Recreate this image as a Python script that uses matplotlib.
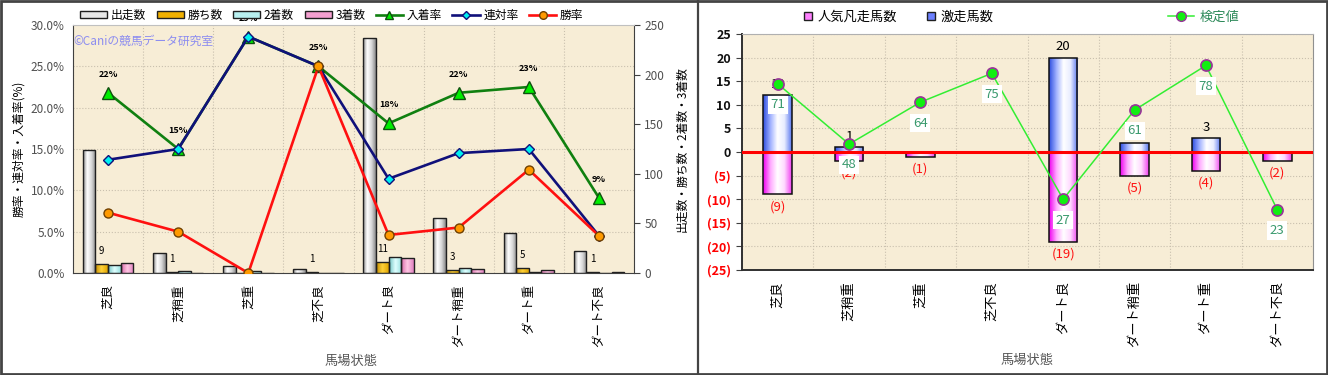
import numpy as np
import matplotlib
matplotlib.use('Agg')
import matplotlib.pyplot as plt
from matplotlib.colors import LinearSegmentedColormap
from matplotlib.patches import Patch, Rectangle
from matplotlib.lines import Line2D

plt.rcParams['font.family'] = ['Noto Sans CJK JP', 'DejaVu Sans']

# data
cats = ['芝良', '芝稍重', '芝重', '芝不良', 'ダート良', 'ダート稍重', 'ダート重', 'ダート不良']
starts = [124, 20, 7, 4, 237, 55, 40, 22]
wins = [9, 1, 0, 1, 11, 3, 5, 1]
seconds = [8, 2, 2, 0, 16, 5, 1, 0]
thirds = [10, 0, 0, 0, 15, 4, 3, 1]
place_rate = [21.8, 15.0, 28.6, 25.0, 18.1, 21.8, 22.5, 9.1]
rentai_rate = [13.7, 15.0, 28.6, 25.0, 11.4, 14.5, 15.0, 4.5]
win_rate = [7.3, 5.0, 0.0, 25.0, 4.6, 5.5, 12.5, 4.5]
place_labels = ['22%', '15%', '29%', '25%', '18%', '22%', '23%', '9%']

gekiso = [12, 1, 0, 0, 20, 2, 3, 0]
bonso = [-9, -2, -1, 0, -19, -5, -4, -2]
kentei = [71, 48, 64, 75, 27, 61, 78, 23]

BG = '#F7EDD6'
GRID = '#C9C0AE'


def shade(ax, bars, colors, z=2):
    # gradient fill clipped to each bar
    cmap = LinearSegmentedColormap.from_list('g', colors)
    grad = np.linspace(0, 1, 64).reshape(1, -1)
    for b in bars:
        h = b.get_height()
        if h == 0:
            continue
        x, y, w = b.get_x(), b.get_y(), b.get_width()
        im = ax.imshow(grad, extent=[x, x + w, y, y + h], aspect='auto',
                       cmap=cmap, zorder=z, origin='lower', interpolation='bilinear')
        im.set_clip_path(b)


fig = plt.figure(figsize=(13.28, 3.75), dpi=100)
x = np.arange(len(cats))

# ---------------- left chart ----------------
ax = fig.add_axes([73 / 1328, 1 - 273 / 375, 561 / 1328, 248 / 375])
ax.set_facecolor(BG)
ax2 = ax.twinx()

w = 0.18
series = [(starts, ['#8c8c8c', '#ffffff', '#d8d8d8', '#8a8a8a']),
          (wins, ['#c08a00', '#ffd23a', '#e0a400']),
          (seconds, ['#70c4c4', '#e0ffff', '#98e0e0']),
          (thirds, ['#d868a8', '#ffc8e4', '#e080c0'])]
for k, (vals, cols) in enumerate(series):
    bars = ax.bar(x + (k - 1.5) * w, vals, w, facecolor='none', edgecolor='#202020',
                  linewidth=1.0, zorder=3)
    shade(ax, bars, cols, z=2.5)
for i, v in enumerate(wins):
    if v:
        ax.annotate(str(v), (x[i] - 0.5 * w, v), xytext=(0, 6), textcoords='offset points',
                    ha='center', va='bottom', fontsize=7)
ax.set_xlim(-0.5, len(cats) - 0.5)
ax.set_ylim(0, 250)
ax.yaxis.tick_right()
ax.yaxis.set_label_position('right')
ax.set_yticks(np.arange(0, 251, 50))
ax.tick_params(axis='y', labelsize=8.5, labelcolor='#505050', length=4, color='#404040')
ax.set_yticks(np.arange(0, 251, 250 / 6), minor=True)
ax.tick_params(axis='y', which='minor', length=0)
ax.set_xticks(np.arange(-0.5, len(cats), 1))
ax.set_xticklabels([])
ax.set_xticks(x, minor=True)
ax.set_xticklabels(cats, minor=True, rotation=90, fontsize=9)
ax.tick_params(axis='x', which='both', length=0, pad=8)
ax.grid(True, which='major', axis='x', linestyle=':', color=GRID, linewidth=0.8)
ax.grid(True, which='minor', axis='y', linestyle=':', color=GRID, linewidth=0.8)
ax.set_axisbelow(True)
ax.set_ylabel('出走数・勝ち数・2着数・3着数', fontsize=8.5, rotation=90, labelpad=8)
ax.set_xlabel('馬場状態', fontsize=9.5, color='#555555')
ax.xaxis.set_label_coords(0.495, -0.33)
ax.spines['top'].set_color('#c0c0c0')
ax.spines['left'].set_color('#404040')
ax.spines['right'].set_color('#404040')
ax.spines['bottom'].set_color('#404040')

ax2.yaxis.tick_left()
ax2.yaxis.set_label_position('left')
ax2.set_ylim(0, 30)
ax2.set_yticks(np.arange(0, 31, 5))
ax2.set_yticklabels(['%.1f%%' % v for v in np.arange(0, 31, 5)])
ax2.tick_params(axis='y', labelsize=8.5, labelcolor='#505050', length=0, pad=6)
ax2.plot(x, place_rate, color='#108010', lw=1.9, marker='^', ms=8, mfc='#00ee00',
         mec='#105010', zorder=4, label='入着率')
ax2.plot(x, rentai_rate, color='#10107a', lw=1.9, marker='D', ms=5.5, mfc='#00f0f0',
         mec='#10107a', zorder=5, label='連対率')
ax2.plot(x, win_rate, color='#ff1010', lw=1.9, marker='o', ms=6.5, mfc='#ff9a00',
         mec='#704000', zorder=6, label='勝率')
for i, lbl in enumerate(place_labels):
    ax2.annotate(lbl, (x[i], place_rate[i]), xytext=(0, 10), textcoords='offset points',
                 ha='center', va='bottom', fontsize=6.5, fontweight='bold', zorder=3)
ax2.set_ylabel('勝率・連対率・入着率(%)', fontsize=8.5, labelpad=4)
ax2.text(0.0, 0.935, '©Caniの競馬データ研究室', transform=ax2.transAxes, fontsize=8.5,
         color='#8c8cf0', ha='left', va='center')
for s in ax2.spines.values():
    s.set_visible(False)

handles = [Patch(facecolor='#e8e8e8', edgecolor='#202020', label='出走数'),
           Patch(facecolor='#f0b000', edgecolor='#202020', label='勝ち数'),
           Patch(facecolor='#b8f0f0', edgecolor='#202020', label='2着数'),
           Patch(facecolor='#f4a0d0', edgecolor='#202020', label='3着数'),
           Line2D([], [], color='#108010', lw=1.9, marker='^', ms=6, mfc='#00ee00', mec='#105010', label='入着率'),
           Line2D([], [], color='#10107a', lw=1.9, marker='D', ms=4.5, mfc='#00f0f0', mec='#10107a', label='連対率'),
           Line2D([], [], color='#ff1010', lw=1.9, marker='o', ms=5.5, mfc='#ff9a00', mec='#704000', label='勝率')]
fig.legend(handles=handles, loc='center left', bbox_to_anchor=(80 / 1328, 1 - 15 / 375),
           ncol=7, frameon=False, fontsize=8.5, handlelength=2.3, handleheight=0.55,
           columnspacing=0.9, handletextpad=0.3, borderaxespad=0, borderpad=0)

# ---------------- right chart ----------------
axr = fig.add_axes([742 / 1328, 1 - 270 / 375, 571 / 1328, 236 / 375])
axr.set_facecolor(BG)
wr = 0.4
b1 = axr.bar(x, gekiso, wr, facecolor='none', edgecolor='#101010', linewidth=1.1, zorder=3)
shade(axr, b1, ['#2f4fe0', '#9fb0ff', '#ffffff', '#e8ecff', '#5a78f0'], z=2.5)
b2 = axr.bar(x, bonso, wr, facecolor='none', edgecolor='#101010', linewidth=1.1, zorder=3)
shade(axr, b2, ['#f000f0', '#ffa8ff', '#ffffff', '#ffd8ff', '#f040f0'], z=2.5)
axr.axhline(0, color='#ff0000', lw=2.2, zorder=4)
for i in range(len(cats)):
    if gekiso[i]:
        axr.annotate(str(gekiso[i]), (x[i], gekiso[i]), xytext=(0, 3), textcoords='offset points',
                     ha='center', va='bottom', fontsize=9.5, zorder=5)
    if bonso[i]:
        axr.annotate('(%d)' % -bonso[i], (x[i], bonso[i]), xytext=(0, -4), textcoords='offset points',
                     ha='center', va='top', fontsize=9.5, color='#ff1010', zorder=5)
axr.set_xlim(-0.5, len(cats) - 0.5)
axr.set_ylim(-25, 25)
yt = np.arange(-25, 26, 5)
axr.set_yticks(yt)
axr.set_yticklabels([str(v) if v >= 0 else '(%d)' % -v for v in yt], fontsize=9, fontweight='bold')
for lbl, v in zip(axr.get_yticklabels(), yt):
    lbl.set_color('#ff0000' if v < 0 else '#101010')
axr.tick_params(axis='y', length=4, color='#404040', pad=4)
axr.set_xticks(np.arange(-0.5, len(cats), 1))
axr.set_xticklabels([])
axr.set_xticks(x, minor=True)
axr.set_xticklabels(cats, minor=True, rotation=90, fontsize=9.5)
axr.tick_params(axis='x', which='both', length=0, pad=8)
axr.grid(True, axis='both', which='major', linestyle=':', color=GRID, linewidth=0.8)
axr.set_axisbelow(True)
axr.set_xlabel('馬場状態', fontsize=9.5, color='#555555')
axr.xaxis.set_label_coords(0.5, -0.355)
axr.spines['left'].set_color('#303030')
axr.spines['bottom'].set_color('#303030')
axr.spines['left'].set_linewidth(1.4)
axr.spines['bottom'].set_linewidth(1.4)
axr.spines['top'].set_color('#b0b0b0')
axr.spines['right'].set_color('#909090')

axr2 = axr.twinx()
axr2.set_ylim(0, 90)
axr2.axis('off')
axr2.plot(x, kentei, color='#33ee33', lw=1.1, marker='o', ms=8, mfc='#11ee11',
          mec='#993399', mew=1.2, zorder=6)
for i, v in enumerate(kentei):
    axr2.annotate(str(v), (x[i], v), xytext=(0, -15), textcoords='offset points',
                  ha='center', va='center', fontsize=9.5, color='#3a9a6e', zorder=7,
                  bbox=dict(boxstyle='square,pad=0.2', fc='white', ec='none'))

sq = dict(marker='s', ls='none', ms=6, mec='#202020', mew=1.0)
leg1 = fig.legend(handles=[Line2D([], [], mfc='#ff80ff', label='人気凡走馬数', **sq)],
                  loc='center left', bbox_to_anchor=(803 / 1328, 1 - 17 / 375), frameon=False,
                  fontsize=9.5, handlelength=0.8, handletextpad=0.3, borderaxespad=0, borderpad=0)
leg2 = fig.legend(handles=[Line2D([], [], mfc='#6c80ff', label='激走馬数', **sq)],
                  loc='center left', bbox_to_anchor=(926 / 1328, 1 - 17 / 375), frameon=False,
                  fontsize=9.5, handlelength=0.8, handletextpad=0.3, borderaxespad=0, borderpad=0)
leg3 = fig.legend(handles=[Line2D([], [], color='#33ee33', lw=1.1, marker='o', ms=7, mfc='#11ee11',
                                  mec='#993399', label='検定値')],
                  loc='center left', bbox_to_anchor=(1168 / 1328, 1 - 17 / 375), frameon=False,
                  fontsize=9.5, handlelength=2.0, handletextpad=0.4, borderaxespad=0, borderpad=0)
for t in leg3.get_texts():
    t.set_color('#2e8a5a')

# frame and divider
fig.patches.append(Rectangle((0.001, 0.002), 0.998, 0.995, transform=fig.transFigure,
                             fill=False, edgecolor='#444444', lw=2))
fig.add_artist(Line2D([697.5 / 1328, 697.5 / 1328], [0, 1], transform=fig.transFigure,
                      color='#444444', lw=1.6))

fig.savefig('out.png', dpi=100)
